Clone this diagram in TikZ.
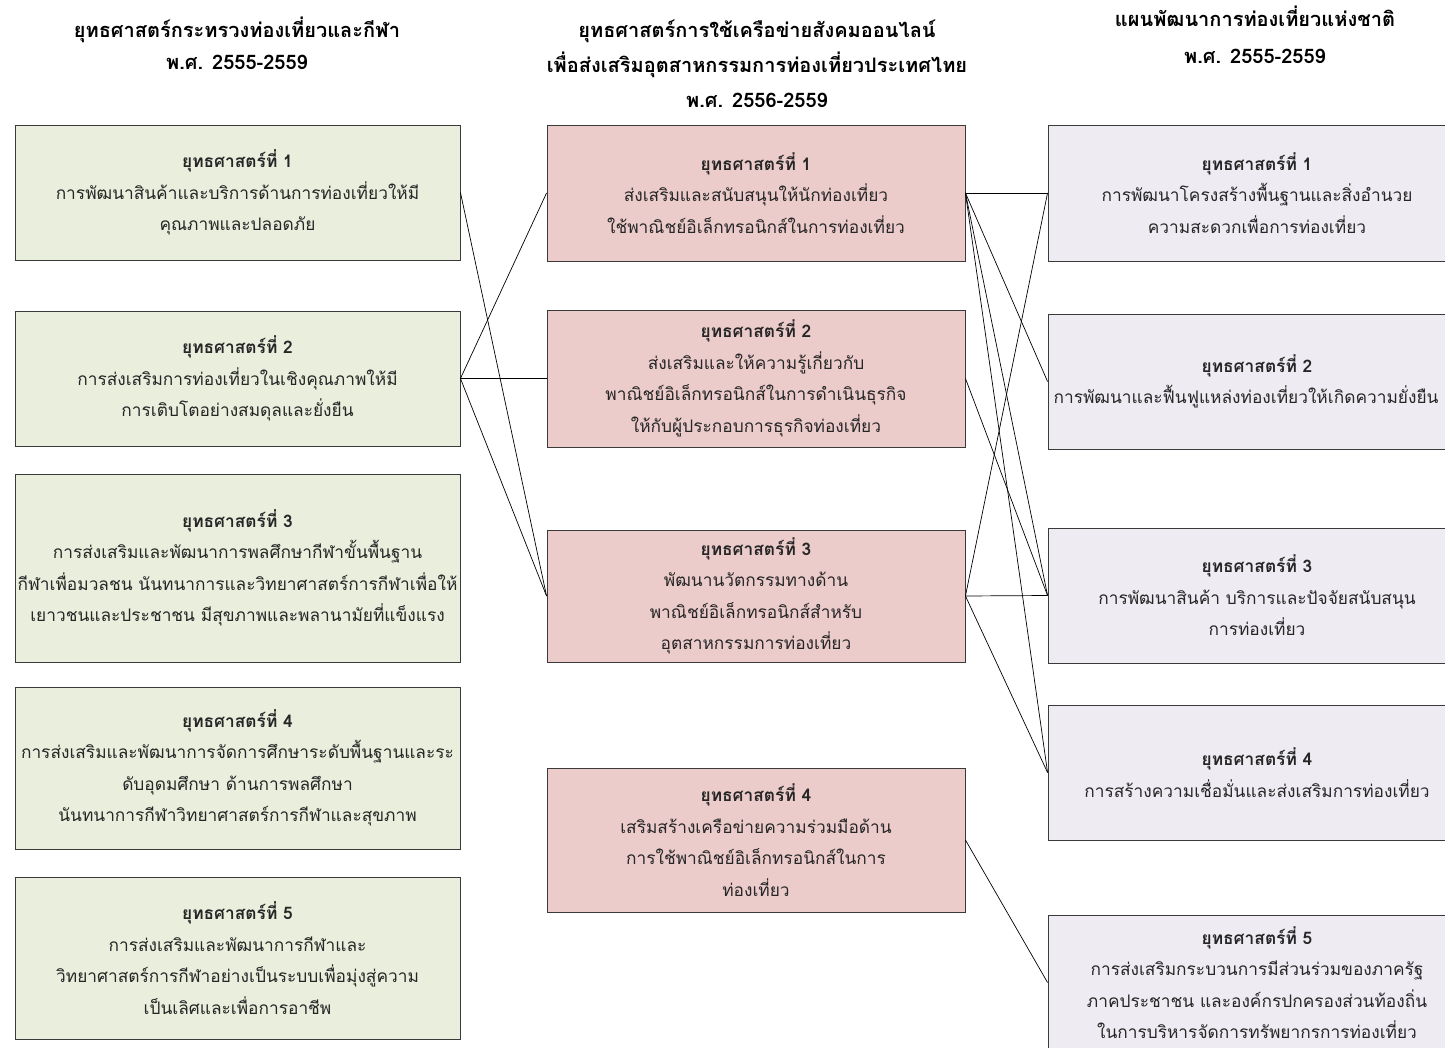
\documentclass[tikz,border=0pt]{standalone}
\usepackage{fontspec}
\setmainfont[Script=Thai]{Loma}
\definecolor{greenfill}{HTML}{EAEEDD}
\definecolor{pinkfill}{HTML}{ECCCCB}
\definecolor{lavfill}{HTML}{EEECF2}
\definecolor{boxline}{HTML}{3A3A3A}
\begin{document}
\begin{tikzpicture}[x=1pt,y=-1pt,
  box/.style={draw=boxline,line width=0.9pt,align=center,inner sep=0pt,
    font=\fontsize{17.3}{31.5}\selectfont,text=black!85},
  lbox/.style={box,fill=greenfill,minimum width=445pt},
  mbox/.style={box,fill=pinkfill,minimum width=418pt},
  rbox/.style={box,fill=lavfill,minimum width=418pt},
  ttl/.style={align=center,font=\fontsize{20}{32}\selectfont\bfseries},
  link/.style={draw=black,line width=0.7pt}]
\clip (0,0) rectangle (1445,1048);
\fill[white] (0,0) rectangle (1445,1048);
% titles
\node[ttl] (tl) at (237,43.5) {ยุทธศาสตร์กระทรวงท่องเที่ยวและกีฬา\\พ.ศ. 2555-2559};
\node[ttl,font=\fontsize{20}{35}\selectfont\bfseries] (tm) at (757,64) {ยุทธศาสตร์การใช้เครือข่ายสังคมออนไลน์\\เพื่อส่งเสริมอุตสาหกรรมการท่องเที่ยวประเทศไทย\\พ.ศ. 2556-2559};
\node[ttl,font=\fontsize{20}{37}\selectfont\bfseries] (tr) at (1255,35) {แผนพัฒนาการท่องเที่ยวแห่งชาติ\\พ.ศ. 2555-2559};
% left column
\node[lbox,minimum height=135pt] (L1) at (237.5,192.5) {\textbf{ยุทธศาสตร์ที่ 1}\\การพัฒนาสินค้าและบริการด้านการท่องเที่ยวให้มี\\คุณภาพและปลอดภัย};
\node[lbox,minimum height=135pt] (L2) at (237.5,378.5) {\textbf{ยุทธศาสตร์ที่ 2}\\การส่งเสริมการท่องเที่ยวในเชิงคุณภาพให้มี\\การเติบโตอย่างสมดุลและยั่งยืน};
\node[lbox,minimum height=188pt] (L3) at (237.5,568) {\textbf{ยุทธศาสตร์ที่ 3}\\การส่งเสริมและพัฒนาการพลศึกษากีฬาขั้นพื้นฐาน\\กีฬาเพื่อมวลชน นันทนาการและวิทยาศาสตร์การกีฬาเพื่อให้\\เยาวชนและประชาชน มีสุขภาพและพลานามัยที่แข็งแรง};
\node[lbox,minimum height=162pt] (L4) at (237.5,768) {\textbf{ยุทธศาสตร์ที่ 4}\\การส่งเสริมและพัฒนาการจัดการศึกษาระดับพื้นฐานและระ\\ดับอุดมศึกษา ด้านการพลศึกษา\\นันทนาการกีฬาวิทยาศาสตร์การกีฬาและสุขภาพ};
\node[lbox,minimum height=162pt] (L5) at (237.5,958) {\textbf{ยุทธศาสตร์ที่ 5}\\การส่งเสริมและพัฒนาการกีฬาและ\\วิทยาศาสตร์การกีฬาอย่างเป็นระบบเพื่อมุ่งสู่ความ\\เป็นเลิศและเพื่อการอาชีพ};
% middle column
\node[mbox,minimum height=136pt] (M1) at (756,193) {\textbf{ยุทธศาสตร์ที่ 1}\\ส่งเสริมและสนับสนุนให้นักท่องเที่ยว\\ใช้พาณิชย์อิเล็กทรอนิกส์ในการท่องเที่ยว};
\node[mbox,minimum height=137pt] (M2) at (756,378.5) {\textbf{ยุทธศาสตร์ที่ 2}\\ส่งเสริมและให้ความรู้เกี่ยวกับ\\พาณิชย์อิเล็กทรอนิกส์ในการดำเนินธุรกิจ\\ให้กับผู้ประกอบการธุรกิจท่องเที่ยว};
\node[mbox,minimum height=132pt] (M3) at (756,596) {\textbf{ยุทธศาสตร์ที่ 3}\\พัฒนานวัตกรรมทางด้าน\\พาณิชย์อิเล็กทรอนิกส์สำหรับ\\อุตสาหกรรมการท่องเที่ยว};
\node[mbox,minimum height=144pt] (M4) at (756,840) {\textbf{ยุทธศาสตร์ที่ 4}\\เสริมสร้างเครือข่ายความร่วมมือด้าน\\การใช้พาณิชย์อิเล็กทรอนิกส์ในการ\\ท่องเที่ยว};
% right column
\node[rbox,minimum height=136pt] (R1) at (1257,193) {\textbf{ยุทธศาสตร์ที่ 1}\\การพัฒนาโครงสร้างพื้นฐานและสิ่งอำนวย\\ความสะดวกเพื่อการท่องเที่ยว};
\node[rbox,minimum height=135pt] (R2) at (1257,381.5) {\textbf{ยุทธศาสตร์ที่ 2}\\\hspace*{-22pt}การพัฒนาและฟื้นฟูแหล่งท่องเที่ยวให้เกิดความยั่งยืน};
\node[rbox,minimum height=135pt] (R3) at (1257,595.5) {\textbf{ยุทธศาสตร์ที่ 3}\\การพัฒนาสินค้า บริการและปัจจัยสนับสนุน\\การท่องเที่ยว};
\node[rbox,minimum height=135pt] (R4) at (1257,772.5) {\textbf{ยุทธศาสตร์ที่ 4}\\การสร้างความเชื่อมั่นและส่งเสริมการท่องเที่ยว};
\node[rbox,minimum height=135pt] (R5) at (1257,982.5) {\textbf{ยุทธศาสตร์ที่ 5}\\การส่งเสริมกระบวนการมีส่วนร่วมของภาครัฐ\\ภาคประชาชน และองค์กรปกครองส่วนท้องถิ่น\\ในการบริหารจัดการทรัพยากรการท่องเที่ยว};
% connectors
\draw[link] (L1.east) -- (M3.west);
\draw[link] (L2.east) -- (M1.west);
\draw[link] (L2.east) -- (M2.west);
\draw[link] (L2.east) -- (M3.west);
\draw[link] (M1.east) -- (R1.west);
\draw[link] (M1.east) -- (R2.west);
\draw[link] (M1.east) -- (R3.west);
\draw[link] (M1.east) -- (R4.west);
\draw[link] (M2.east) -- (R3.west);
\draw[link] (M3.east) -- (R1.west);
\draw[link] (M3.east) -- (R3.west);
\draw[link] (M3.east) -- (R4.west);
\draw[link] (M4.east) -- (R5.west);
\end{tikzpicture}
\end{document}
